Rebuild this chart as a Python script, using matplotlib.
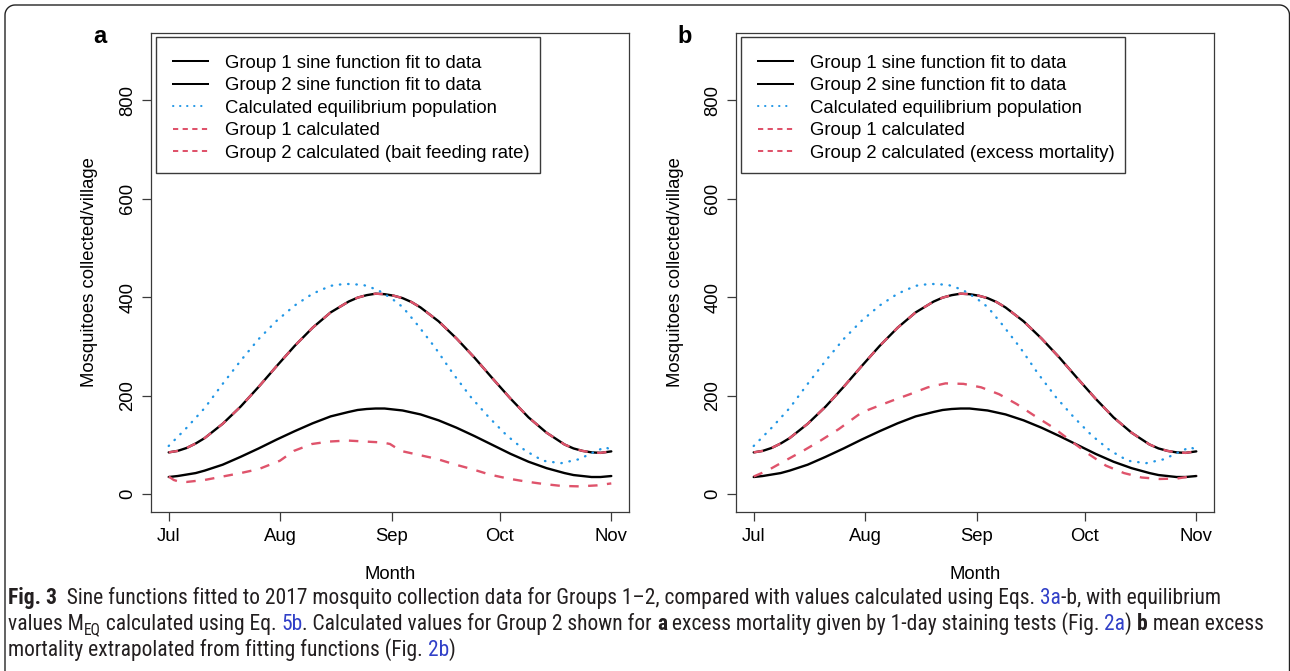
import matplotlib
matplotlib.use('Agg')
import matplotlib.pyplot as plt
from matplotlib.lines import Line2D
from matplotlib.patches import Rectangle
from matplotlib import font_manager
from matplotlib.font_manager import FontProperties
import numpy as np

# ---------------- data ----------------
month_labels = ['Jul', 'Aug', 'Sep', 'Oct', 'Nov']
month_days = [0, 31, 62, 92, 123]
y_ticks = [0, 200, 400, 600, 800]

fit_days = [0, 2.5, 5, 7.5, 10, 15, 20, 25, 30, 35, 40, 45, 50, 52.5, 55, 57.5,
            60, 62.5, 65, 67.5, 70, 75, 80, 85, 90, 95, 100, 105, 110, 112.5,
            115, 117.5, 120, 123]
group1_fit = [85, 88, 94, 103, 114, 143, 178, 218, 260, 301, 338, 369, 391, 399,
              404, 407, 406, 403, 398, 390, 379, 351, 316, 277, 235, 194, 156, 125,
              101, 93, 88, 85, 84, 87]
group2_fit = [35, 37, 40, 43, 48, 60, 76, 93, 111, 128, 144, 158, 167, 171,
              173, 174, 174, 172, 170, 166, 162, 150, 135, 118, 100, 82, 66, 53,
              43, 39, 37, 35, 35, 37]
group1_calc = [85, 88, 94, 103, 114, 143, 178, 218, 260, 301, 338, 369, 391, 399,
               404, 407, 406, 403, 398, 390, 379, 351, 316, 277, 235, 194, 156, 125,
               101, 93, 88, 85, 84, 87]

eq_days = [0, 5, 10, 15, 20, 25, 30, 35, 40, 45, 49, 54, 58, 62, 65, 69, 74,
           79, 84, 89, 94, 99, 104, 109, 114, 118, 121.4, 123]
equilibrium = [98, 135, 175, 224, 271, 315, 352, 383, 407, 423, 427, 425, 415,
               397, 380, 345, 298, 245, 197, 156, 119, 89, 68, 63, 71, 85, 96, 89]

calc_a_days = [0, 1.4, 2.7, 5, 10, 15, 20, 25, 30.9, 34.8, 39.8, 44.7, 49.7,
               54.6, 59.5, 61.5, 64.5, 69.4, 74.4, 79.3, 84.3, 89.2, 94.2, 99.1,
               104, 109, 114, 119, 123]
group2_calc_a = [36, 29, 26, 25, 29, 36, 43, 51, 68, 88, 102, 107, 109, 107,
                 105, 102, 88, 80, 72, 61, 51, 40, 32, 26, 21, 17, 16, 18, 22]

calc_b_days = [0, 3.8, 8.7, 13.7, 18.6, 23.6, 30, 33.5, 38.5, 43.4, 48.4, 53.3,
               58.3, 63.2, 68.2, 73.1, 78.1, 83.1, 88, 93, 97.9, 102.9, 107.8,
               112.8, 117.7, 123]
group2_calc_b = [36, 48, 68, 88, 109, 132, 166, 176, 190, 203, 217, 225, 224,
                 217, 203, 183, 159, 136, 109, 82, 58, 43, 34, 31, 32, 38]

legend_a = ['Group 1 sine function fit to data',
            'Group 2 sine function fit to data',
            'Calculated equilibrium population',
            'Group 1 calculated',
            'Group 2 calculated (bait feeding rate)']
legend_b = ['Group 1 sine function fit to data',
            'Group 2 sine function fit to data',
            'Calculated equilibrium population',
            'Group 1 calculated',
            'Group 2 calculated (excess mortality)']
panel_letters = ['a', 'b']
x_label = 'Month'
y_label = 'Mosquitoes collected/village'

caption_lines = [
    [('Fig. 3', 'bold'), ('  Sine functions fitted to 2017 mosquito collection data for Groups 1\u20132, compared with values calculated using Eqs. ', 'n'),
     ('3a', 'link'), ('-b, with equilibrium', 'n')],
    [('values M', 'n'), ('EQ', 'sub'), (' calculated using Eq. ', 'n'), ('5b', 'link'),
     ('. Calculated values for Group 2 shown for ', 'n'), ('a', 'bold'),
     (' excess mortality given by 1-day staining tests (Fig. ', 'n'), ('2a', 'link'),
     (') ', 'n'), ('b', 'bold'), (' mean excess', 'n')],
    [('mortality extrapolated from fitting functions (Fig. ', 'n'), ('2b', 'link'), (')', 'n')],
]

# ---------------- styling ----------------
W, H = 1290, 671
BLACK = '#000000'
RED = '#DF536B'
BLUE = '#2297E6'
BOX = '#3a3a3a'
FS = 13.3
LW = 1.7
DOT = (0, (0.2, 3.3))
DASH = (0, (4, 4))
LEG_DASH = (0, (2.6, 2.2))
plt.rcParams['font.family'] = ['Liberation Sans', 'DejaVu Sans']

fig = plt.figure(figsize=(W / 100, H / 100), dpi=100)
renderer = fig.canvas.get_renderer()


def fx(px):
    return px / W


def fy(py):
    return 1 - py / H


def text_w(s, **kw):
    t1 = fig.text(0, 0, 'x' + s + 'x', **kw)
    w1 = t1.get_window_extent(renderer).width
    t1.remove()
    t2 = fig.text(0, 0, 'xx', **kw)
    w2 = t2.get_window_extent(renderer).width
    t2.remove()
    return w1 - w2


AX_TOP, AX_BOT, AX_W = 33, 512, 478
panel_left = [151, 736]
calc_days = [calc_a_days, calc_b_days]
calc_vals = [group2_calc_a, group2_calc_b]
legends = [legend_a, legend_b]
leg_styles = [(BLACK, '-', 'butt'), (BLACK, '-', 'butt'), (BLUE, DOT, 'round'),
              (RED, LEG_DASH, 'butt'), (RED, LEG_DASH, 'butt')]

for i in range(2):
    L = panel_left[i]
    ax = fig.add_axes([fx(L), fy(AX_BOT), AX_W / W, (AX_BOT - AX_TOP) / H])
    ax.plot(fit_days, group1_fit, color=BLACK, lw=LW, solid_capstyle='round',
            solid_joinstyle='round')
    ax.plot(fit_days, group2_fit, color=BLACK, lw=LW, solid_capstyle='round',
            solid_joinstyle='round')
    ax.plot(eq_days, equilibrium, color=BLUE, lw=LW, linestyle=DOT,
            dash_capstyle='round')
    ax.plot(fit_days, group1_calc, color=RED, lw=LW, linestyle=DASH)
    ax.plot(calc_days[i], calc_vals[i], color=RED, lw=LW, linestyle=DASH)
    ax.set_xlim(-4.92, 127.92)
    ax.set_ylim(-36, 936)
    ax.set_xticks(month_days, labels=month_labels)
    ax.set_yticks(y_ticks, labels=[str(v) for v in y_ticks], rotation=90, va='center')
    ax.tick_params(axis='both', length=6.5, width=0.9, color=BOX, labelsize=FS,
                   labelcolor='black')
    ax.tick_params(axis='x', pad=5)
    ax.tick_params(axis='y', pad=4)
    for sp in ax.spines.values():
        sp.set_color(BOX)
        sp.set_linewidth(0.9)

    fig.text(fx(L - 61), fy((AX_TOP + AX_BOT) / 2), y_label, rotation=90,
             ha='center', va='center', fontsize=FS)
    fig.text(fx(L + AX_W / 2), fy(579), x_label, ha='center', va='baseline', fontsize=FS)
    fig.text(fx(L - 51), fy(43), panel_letters[i], ha='center', va='baseline',
             fontsize=17, fontweight='bold')

    # legend (R style)
    lx0 = L + 5
    ly0 = 37
    row0 = 61
    dy = 22.6
    max_right = 0
    for k, ((col, ls, cap), lab) in enumerate(zip(leg_styles, legends[i])):
        yy = row0 + k * dy
        fig.add_artist(Line2D([fx(lx0 + 17), fx(lx0 + 52)], [fy(yy), fy(yy)],
                              transform=fig.transFigure, color=col,
                              lw=LW * 0.85, linestyle=ls, dash_capstyle=cap))
        t = fig.text(fx(lx0 + 69), fy(yy), lab, ha='left', va='center_baseline',
                     fontsize=FS)
        bb = t.get_window_extent(renderer)
        max_right = max(max_right, bb.x1)
    ly1 = 173
    lx1 = max_right + 10
    fig.add_artist(Rectangle((fx(lx0), fy(ly1)), (lx1 - lx0) / W, (ly1 - ly0) / H,
                             transform=fig.transFigure, facecolor='none',
                             edgecolor=BOX, lw=1.0))

# ---------------- caption ----------------
ttf = font_manager.fontManager.ttflist


def is_condensed(f):
    st = str(f.stretch).lower()
    return ('condensed' in st and 'semi' not in st and 'extra' not in st) or st in ('75', '62.5')


def pick(weight_bold):
    def wok(f):
        w = f.weight if isinstance(f.weight, int) else {'normal': 400, 'regular': 400,
                                                          'bold': 700}.get(str(f.weight), 400)
        return (w >= 600) if weight_bold else (350 <= w <= 500)
    cands = []
    order = ['Liberation Sans Narrow', 'Roboto Condensed', 'Open Sans Condensed',
             'Noto Sans Condensed', 'Noto Sans', 'Open Sans', 'Roboto', 'DejaVu Sans']
    for f in ttf:
        if f.style != 'normal' or not wok(f):
            continue
        nm = f.name
        cond = ('Narrow' in nm or 'Condensed' in nm or is_condensed(f))
        if not cond:
            continue
        if 'Semi' in nm or 'Extra' in nm or 'Ultra' in nm:
            continue
        pr = order.index(nm) if nm in order else len(order)
        cands.append((pr, f.fname))
    if cands:
        cands.sort()
        return cands[0][1]
    return None


reg_path = pick(False)
bold_path = pick(True)
CAP_COLOR = '#231f20'
LINK = '#3140c8'


def piece_kw(style, size):
    if style == 'bold':
        fp = FontProperties(fname=bold_path, size=size) if bold_path else \
            FontProperties(family='Liberation Sans', weight='bold', size=size)
    else:
        s = size * 0.72 if style == 'sub' else size
        fp = FontProperties(fname=reg_path, size=s) if reg_path else \
            FontProperties(family='Liberation Sans', size=s)
    return dict(fontproperties=fp, color=LINK if style == 'link' else CAP_COLOR)


def line_width(line, size):
    return sum(text_w(s, **piece_kw(st, size)) for s, st in line)


base = 13.0
target = 1263 - 8
cap_size = base * target / line_width(caption_lines[1], base)
cap_size = min(cap_size, 16.5)
baselines = [604, 630, 656]
for line, bl in zip(caption_lines, baselines):
    x = 8
    for s, st in line:
        kw = piece_kw(st, cap_size)
        yb = bl + (4 if st == 'sub' else 0)
        fig.text(fx(x), fy(yb), s, ha='left', va='baseline', **kw)
        x += text_w(s, **kw)

# ---------------- rounded frame ----------------
r = 10
th = np.linspace(np.pi, np.pi / 2, 12)
xs = [5, 5] + list(5 + r + r * np.cos(th)) + [1289.5 - r]
ys = [H + 5, 5 + r] + list(5 + r - r * np.sin(th)) + [5]
th2 = np.linspace(np.pi / 2, 0, 12)
xs += list(1289.5 - r + r * np.cos(th2)) + [1289.5]
ys += list(5 + r - r * np.sin(th2)) + [H + 5]
fig.add_artist(Line2D([fx(v) for v in xs], [fy(v) for v in ys],
                      transform=fig.transFigure, color='#222222', lw=1.0))

fig.savefig('out.png', dpi=100)
